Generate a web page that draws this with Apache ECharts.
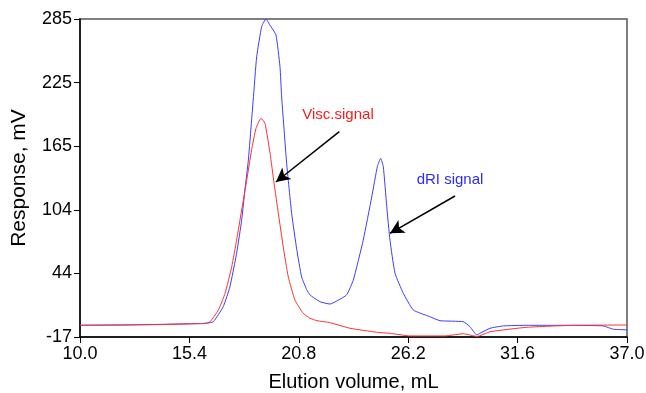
<!DOCTYPE html>
<html>
<head>
<meta charset="utf-8">
<script src="https://cdn.jsdelivr.net/npm/echarts@6/dist/echarts.min.js"></script>
<style>html,body{margin:0;padding:0;background:#fff}#c{width:646px;height:393px}</style>
</head>
<body>
<div id="c"></div>
<script>
// Elution volume (mL) and response (mV)
const driX = [10.0, 12.0, 14.0, 15.4, 16.0, 16.3, 16.58, 17.07, 17.40, 17.73, 17.98, 18.14, 18.31, 18.47, 18.55, 18.72, 18.97, 19.18, 19.38, 19.67, 19.87, 19.95, 20.20, 20.45, 20.70, 20.94, 21.19, 21.35, 21.85, 22.34, 22.75, 23.16, 23.49, 23.98, 24.40, 24.68, 24.84, 24.97, 25.14, 25.30, 25.55, 25.96, 26.45, 27.27, 27.77, 28.92, 29.25, 29.58, 29.74, 30.24, 30.89, 32.05, 34.35, 35.83, 36.32, 37.0];
const driY = [-5.8, -5.6, -5.0, -4.4, -4.2, -3.8, -2.5, 11.8, 30.8, 62.5, 94, 122.6, 151, 189, 208, 249, 278, 285, 279, 270, 240, 212, 148, 100, 66, 40, 28, 23, 16.5, 14.3, 18, 23, 37, 75, 116, 145, 152.7, 145, 107, 75, 43.5, 24.5, 8.7, 2.3, -1.5, -2.5, -7.2, -15, -13.5, -8.7, -6.5, -5.9, -5.9, -6.5, -9.6, -10.2];
const viscX = [10.0, 14.0, 15.4, 16.0, 16.2, 16.42, 16.83, 17.16, 17.49, 17.73, 17.98, 18.23, 18.47, 18.69, 18.93, 19.13, 19.38, 19.58, 19.79, 20.03, 20.28, 20.61, 21.02, 21.35, 21.70, 22.34, 23.33, 24.64, 25.30, 26.29, 28.0, 28.93, 29.6, 30.24, 32.05, 34.35, 37.0];
const viscY = [-5.9, -5.2, -4.6, -4.3, -4.0, -2.5, 8.6, 24.5, 49.8, 75, 103.6, 132, 160.6, 181.2, 190.7, 186, 157.5, 129, 100.5, 68.8, 40.3, 18.1, 5.5, 0.8, -1.5, -3.4, -8.7, -12.5, -13.5, -16, -16, -13.9, -16.5, -12, -7.8, -5.9, -5.6];
const yTickLabels = ['-17', '44', '104', '165', '225', '285'];
const xTickLabels = ['10.0', '15.4', '20.8', '26.2', '31.6', '37.0'];
const viscArrow = [[22.80, 178], [19.67, 130.2]];
const driArrow = [[28.51, 116.9], [25.30, 81.5]];

const zip = (xs, ys) => xs.map((x, i) => [x, ys[i]]);
const chart = echarts.init(document.getElementById('c'));
const font = 'Liberation Sans, Arial, sans-serif';
chart.setOption({
  animation: false,
  grid: { left: 80, right: 19, top: 19, bottom: 56, containLabel: false, outerBoundsMode: 'none',
    show: true, borderColor: '#555', borderWidth: 1.5, backgroundColor: 'transparent' },
  xAxis: {
    type: 'value', min: 10, max: 37, interval: 5.4,
    name: 'Elution volume, mL', nameLocation: 'middle', nameGap: 35,
    nameTextStyle: { fontFamily: font, fontSize: 20, color: '#000' },
    axisLine: { onZero: false, lineStyle: { color: '#000', width: 1.5 } },
    axisTick: { show: true, length: 6, lineStyle: { color: '#000' } },
    axisLabel: { fontFamily: font, fontSize: 18, color: '#000', margin: 8,
      formatter: v => xTickLabels[Math.round((v - 10) / 5.4)] },
    splitLine: { show: false }
  },
  yAxis: {
    type: 'value', min: -17, max: 285, interval: 60.4,
    name: 'Response, mV', nameLocation: 'middle', nameGap: 50, nameRotate: 90,
    nameTextStyle: { fontFamily: font, fontSize: 21, color: '#000' },
    axisLine: { show: true, onZero: false, lineStyle: { color: '#000', width: 1.5 } },
    axisTick: { show: true, length: 6, lineStyle: { color: '#000' } },
    axisLabel: { fontFamily: font, fontSize: 18, color: '#000', margin: 8,
      formatter: v => yTickLabels[Math.round((v + 17) / 60.4)] },
    splitLine: { show: false }
  },
  series: [
    { type: 'line', name: 'dRI signal', data: zip(driX, driY), showSymbol: false, smooth: 0.15,
      lineStyle: { color: '#3d3dff', width: 1 }, itemStyle: { color: '#3d3dff' },
      markLine: { silent: true, symbol: ['none', 'arrow'], symbolSize: [11, 14], label: { show: false },
        lineStyle: { color: '#000', width: 1.5, type: 'solid' },
        data: [[{ coord: driArrow[0] }, { coord: driArrow[1] }]] } },
    { type: 'line', name: 'Visc.signal', data: zip(viscX, viscY), showSymbol: false, smooth: 0.15,
      lineStyle: { color: '#ff3030', width: 1 }, itemStyle: { color: '#ff3030' },
      markLine: { silent: true, symbol: ['none', 'arrow'], symbolSize: [11, 14], label: { show: false },
        lineStyle: { color: '#000', width: 1.5, type: 'solid' },
        data: [[{ coord: viscArrow[0] }, { coord: viscArrow[1] }]] } }
  ],
  graphic: [
    { type: 'text', x: 338, y: 115, style: { text: 'Visc.signal', fill: '#ff1a1a', font: '15px ' + font, textAlign: 'center', textVerticalAlign: 'middle' } },
    { type: 'text', x: 450, y: 180, style: { text: 'dRI signal', fill: '#2b2bff', font: '15px ' + font, textAlign: 'center', textVerticalAlign: 'middle' } }
  ]
});
</script>
</body>
</html>
